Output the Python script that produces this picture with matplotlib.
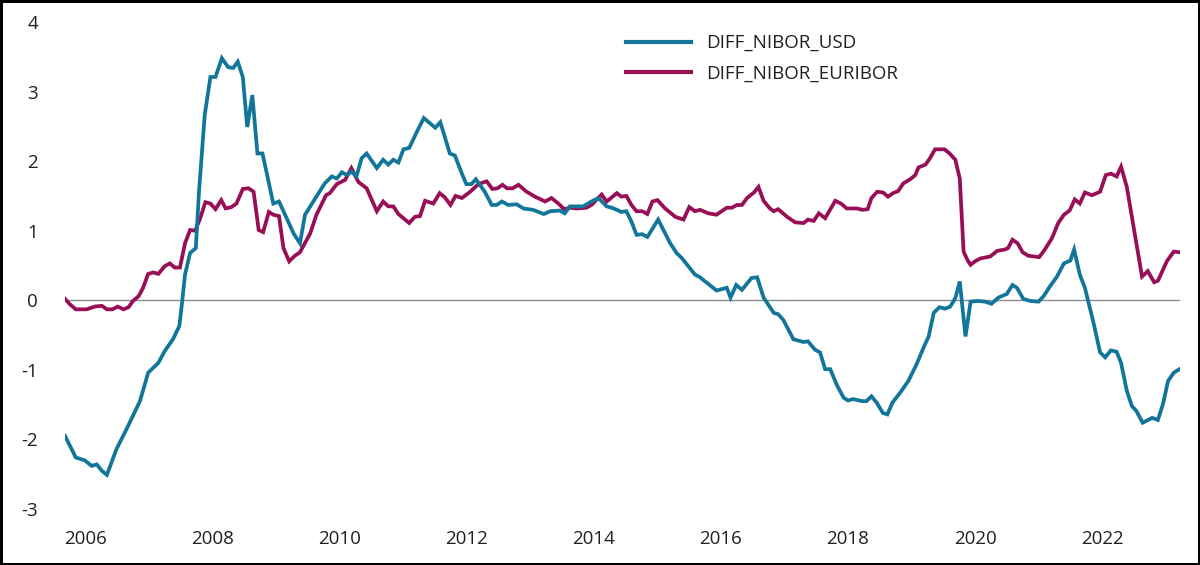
import matplotlib
matplotlib.use("Agg")
import matplotlib.pyplot as plt

# ---- data (decimal years, percentage points) ----
usd_x = [2005.67, 2005.84, 2005.98, 2006.09, 2006.17, 2006.25, 2006.33, 2006.48, 2006.64, 2006.85,
         2006.98, 2007.14, 2007.24, 2007.37, 2007.47, 2007.51, 2007.56, 2007.64, 2007.73, 2007.78,
         2007.87, 2007.96, 2008.04, 2008.14, 2008.24, 2008.32, 2008.39, 2008.47, 2008.54, 2008.62,
         2008.70, 2008.78, 2008.95, 2009.04, 2009.16, 2009.27, 2009.37, 2009.45, 2009.58, 2009.76,
         2009.87, 2009.95, 2010.03, 2010.11, 2010.18, 2010.26, 2010.34, 2010.42, 2010.58, 2010.68,
         2010.76, 2010.84, 2010.92, 2011.00, 2011.09, 2011.21, 2011.32, 2011.50, 2011.58, 2011.73,
         2011.81, 2011.92, 2011.99, 2012.07, 2012.14, 2012.28, 2012.39, 2012.47, 2012.55, 2012.65,
         2012.78, 2012.89, 2013.04, 2013.21, 2013.31, 2013.46, 2013.54, 2013.62, 2013.83, 2013.96,
         2014.07, 2014.20, 2014.28, 2014.36, 2014.43, 2014.51, 2014.59, 2014.67, 2014.76, 2014.84,
         2015.01, 2015.20, 2015.30, 2015.38, 2015.59, 2015.67, 2015.93, 2016.09, 2016.15, 2016.24,
         2016.33, 2016.48, 2016.57, 2016.67, 2016.83, 2016.90, 2016.98, 2017.14, 2017.30, 2017.37,
         2017.48, 2017.56, 2017.64, 2017.72, 2017.82, 2017.93, 2018.00, 2018.08, 2018.22, 2018.29,
         2018.37, 2018.45, 2018.55, 2018.62, 2018.70, 2018.82, 2018.95, 2019.08, 2019.19, 2019.27,
         2019.35, 2019.44, 2019.53, 2019.61, 2019.69, 2019.76, 2019.85, 2019.93, 2020.05, 2020.16,
         2020.26, 2020.37, 2020.50, 2020.59, 2020.66, 2020.76, 2020.87, 2021.00, 2021.08, 2021.18,
         2021.29, 2021.40, 2021.50, 2021.56, 2021.65, 2021.73, 2021.86, 2021.97, 2022.05, 2022.14,
         2022.23, 2022.30, 2022.39, 2022.47, 2022.54, 2022.64, 2022.79, 2022.88, 2022.96, 2023.04,
         2023.13, 2023.22]
usd_v = [-1.95, -2.26, -2.30, -2.38, -2.36, -2.45, -2.51, -2.14, -1.85, -1.45,
         -1.04, -0.90, -0.73, -0.56, -0.37, -0.06, 0.37, 0.68, 0.75, 1.56,
         2.66, 3.21, 3.21, 3.48, 3.35, 3.34, 3.43, 3.21, 2.49, 2.95,
         2.11, 2.11, 1.39, 1.42, 1.18, 0.96, 0.82, 1.23, 1.42, 1.68,
         1.78, 1.75, 1.84, 1.80, 1.85, 1.78, 2.04, 2.11, 1.90, 2.02,
         1.95, 2.02, 1.98, 2.17, 2.19, 2.42, 2.62, 2.48, 2.56, 2.11,
         2.08, 1.82, 1.67, 1.67, 1.74, 1.56, 1.37, 1.37, 1.42, 1.37,
         1.38, 1.32, 1.30, 1.24, 1.28, 1.29, 1.25, 1.35, 1.35, 1.42,
         1.47, 1.35, 1.33, 1.30, 1.27, 1.28, 1.13, 0.94, 0.95, 0.91,
         1.16, 0.82, 0.68, 0.61, 0.37, 0.33, 0.14, 0.18, 0.04, 0.22,
         0.15, 0.32, 0.33, 0.04, -0.18, -0.20, -0.28, -0.56, -0.60, -0.59,
         -0.71, -0.75, -0.99, -0.99, -1.21, -1.40, -1.44, -1.42, -1.45, -1.45,
         -1.38, -1.47, -1.62, -1.64, -1.47, -1.33, -1.16, -0.92, -0.68, -0.52,
         -0.18, -0.10, -0.12, -0.09, 0.03, 0.27, -0.52, -0.02, -0.01, -0.02,
         -0.05, 0.04, 0.09, 0.22, 0.18, 0.02, -0.01, -0.02, 0.06, 0.20,
         0.34, 0.53, 0.57, 0.73, 0.37, 0.18, -0.30, -0.75, -0.82, -0.72,
         -0.74, -0.90, -1.30, -1.52, -1.59, -1.76, -1.69, -1.72, -1.49, -1.16,
         -1.04, -0.99]

eur_x = [2005.67, 2005.75, 2005.84, 2006.01, 2006.14, 2006.25, 2006.33, 2006.42, 2006.50, 2006.59,
         2006.67, 2006.74, 2006.83, 2006.90, 2006.98, 2007.06, 2007.14, 2007.24, 2007.32, 2007.40,
         2007.48, 2007.56, 2007.64, 2007.72, 2007.80, 2007.88, 2007.96, 2008.04, 2008.13, 2008.20,
         2008.29, 2008.37, 2008.47, 2008.56, 2008.64, 2008.72, 2008.79, 2008.88, 2008.95, 2009.04,
         2009.11, 2009.20, 2009.29, 2009.37, 2009.53, 2009.63, 2009.78, 2009.84, 2009.95, 2010.08,
         2010.18, 2010.29, 2010.42, 2010.58, 2010.68, 2010.76, 2010.84, 2010.92, 2011.09, 2011.18,
         2011.26, 2011.34, 2011.47, 2011.57, 2011.65, 2011.74, 2011.82, 2011.92, 2012.05, 2012.18,
         2012.31, 2012.40, 2012.48, 2012.56, 2012.63, 2012.72, 2012.81, 2012.94, 2013.07, 2013.23,
         2013.33, 2013.44, 2013.53, 2013.62, 2013.73, 2013.88, 2013.96, 2014.12, 2014.20, 2014.36,
         2014.43, 2014.51, 2014.59, 2014.67, 2014.76, 2014.84, 2014.92, 2015.00, 2015.12, 2015.28,
         2015.41, 2015.50, 2015.59, 2015.67, 2015.80, 2015.93, 2016.09, 2016.17, 2016.25, 2016.33,
         2016.41, 2016.52, 2016.59, 2016.67, 2016.77, 2016.83, 2016.90, 2017.04, 2017.17, 2017.30,
         2017.37, 2017.46, 2017.54, 2017.64, 2017.80, 2017.89, 2017.98, 2018.14, 2018.23, 2018.31,
         2018.37, 2018.46, 2018.55, 2018.63, 2018.71, 2018.79, 2018.87, 2018.98, 2019.06, 2019.11,
         2019.22, 2019.29, 2019.37, 2019.52, 2019.60, 2019.69, 2019.76, 2019.82, 2019.88, 2019.93,
         2020.00, 2020.08, 2020.24, 2020.35, 2020.47, 2020.52, 2020.59, 2020.67, 2020.75, 2020.84,
         2020.92, 2021.01, 2021.10, 2021.21, 2021.31, 2021.40, 2021.49, 2021.57, 2021.65, 2021.73,
         2021.84, 2021.97, 2022.06, 2022.14, 2022.23, 2022.30, 2022.39, 2022.63, 2022.72, 2022.82,
         2022.88, 2023.02, 2023.13, 2023.22]
eur_v = [0.02, -0.06, -0.13, -0.13, -0.09, -0.08, -0.13, -0.13, -0.09, -0.13,
         -0.10, -0.01, 0.06, 0.18, 0.38, 0.40, 0.38, 0.49, 0.53, 0.47,
         0.47, 0.82, 1.01, 1.00, 1.18, 1.41, 1.39, 1.31, 1.44, 1.32,
         1.34, 1.39, 1.60, 1.61, 1.56, 1.01, 0.98, 1.27, 1.23, 1.21,
         0.75, 0.56, 0.64, 0.69, 0.96, 1.23, 1.51, 1.54, 1.67, 1.73,
         1.90, 1.70, 1.61, 1.28, 1.42, 1.35, 1.35, 1.24, 1.11, 1.20,
         1.21, 1.43, 1.39, 1.54, 1.48, 1.37, 1.50, 1.47, 1.56, 1.67,
         1.71, 1.60, 1.61, 1.66, 1.61, 1.61, 1.66, 1.56, 1.49, 1.42,
         1.47, 1.39, 1.31, 1.33, 1.32, 1.33, 1.37, 1.52, 1.42, 1.54,
         1.49, 1.50, 1.37, 1.28, 1.28, 1.24, 1.42, 1.44, 1.32, 1.20,
         1.16, 1.34, 1.28, 1.30, 1.25, 1.23, 1.33, 1.33, 1.37, 1.37,
         1.47, 1.55, 1.63, 1.43, 1.32, 1.28, 1.31, 1.20, 1.12, 1.11,
         1.16, 1.14, 1.25, 1.18, 1.43, 1.39, 1.32, 1.32, 1.30, 1.31,
         1.47, 1.56, 1.55, 1.49, 1.54, 1.57, 1.68, 1.74, 1.80, 1.91,
         1.95, 2.04, 2.17, 2.17, 2.11, 2.02, 1.75, 0.70, 0.58, 0.51,
         0.56, 0.60, 0.63, 0.71, 0.73, 0.75, 0.87, 0.82, 0.69, 0.64,
         0.63, 0.62, 0.73, 0.89, 1.11, 1.23, 1.29, 1.45, 1.39, 1.55,
         1.51, 1.56, 1.80, 1.82, 1.78, 1.92, 1.63, 0.34, 0.42, 0.26,
         0.28, 0.56, 0.70, 0.69]

series_names = ["DIFF_NIBOR_USD", "DIFF_NIBOR_EURIBOR"]
year_ticks = [2006, 2008, 2010, 2012, 2014, 2016, 2018, 2020, 2022]
y_ticks = [-3, -2, -1, 0, 1, 2, 3, 4]

# ---- styling ----
FONT = "Open Sans"
TEXT_COLOR = "#231f20"
TEAL = "#12769a"
MAROON = "#990f57"

plt.rcParams["font.family"] = [FONT, "DejaVu Sans"]

fig = plt.figure(figsize=(12, 5.65), dpi=100, edgecolor="black", linewidth=2.5)
ax = fig.add_axes([65 / 1200, 1 - 509 / 565, (1179.5 - 65) / 1200, (509 - 22) / 565])

ax.axhline(0, color="#8c8c8c", lw=1.0, zorder=1)
ax.plot(usd_x, usd_v, color=TEAL, lw=2.7, label=series_names[0], zorder=3,
        solid_joinstyle="miter")
ax.plot(eur_x, eur_v, color=MAROON, lw=2.7, label=series_names[1], zorder=2,
        solid_joinstyle="miter")

ax.set_xlim(min(usd_x), max(usd_x))
ax.set_ylim(-3, 4)
ax.set_xticks(year_ticks)
ax.set_xticklabels([str(y) for y in year_ticks])
ax.set_yticks(y_ticks)
ax.set_yticklabels([str(v) for v in y_ticks])

for s in ax.spines.values():
    s.set_visible(False)
ax.tick_params(axis="both", length=0, labelsize=13.5, colors=TEXT_COLOR)
ax.tick_params(axis="x", pad=15)
ax.tick_params(axis="y", pad=19.5)
ax.grid(False)

leg = ax.legend(loc="upper left", bbox_to_anchor=(0.503, 0.975), frameon=False,
                fontsize=13.5, handlelength=3.5, handletextpad=0.8,
                labelspacing=0.65, borderpad=0, borderaxespad=0)
for t in leg.get_texts():
    t.set_color(TEXT_COLOR)
for h in leg.get_lines():
    h.set_linewidth(3.0)

fig.savefig("out.png", dpi=100, edgecolor=fig.get_edgecolor())
